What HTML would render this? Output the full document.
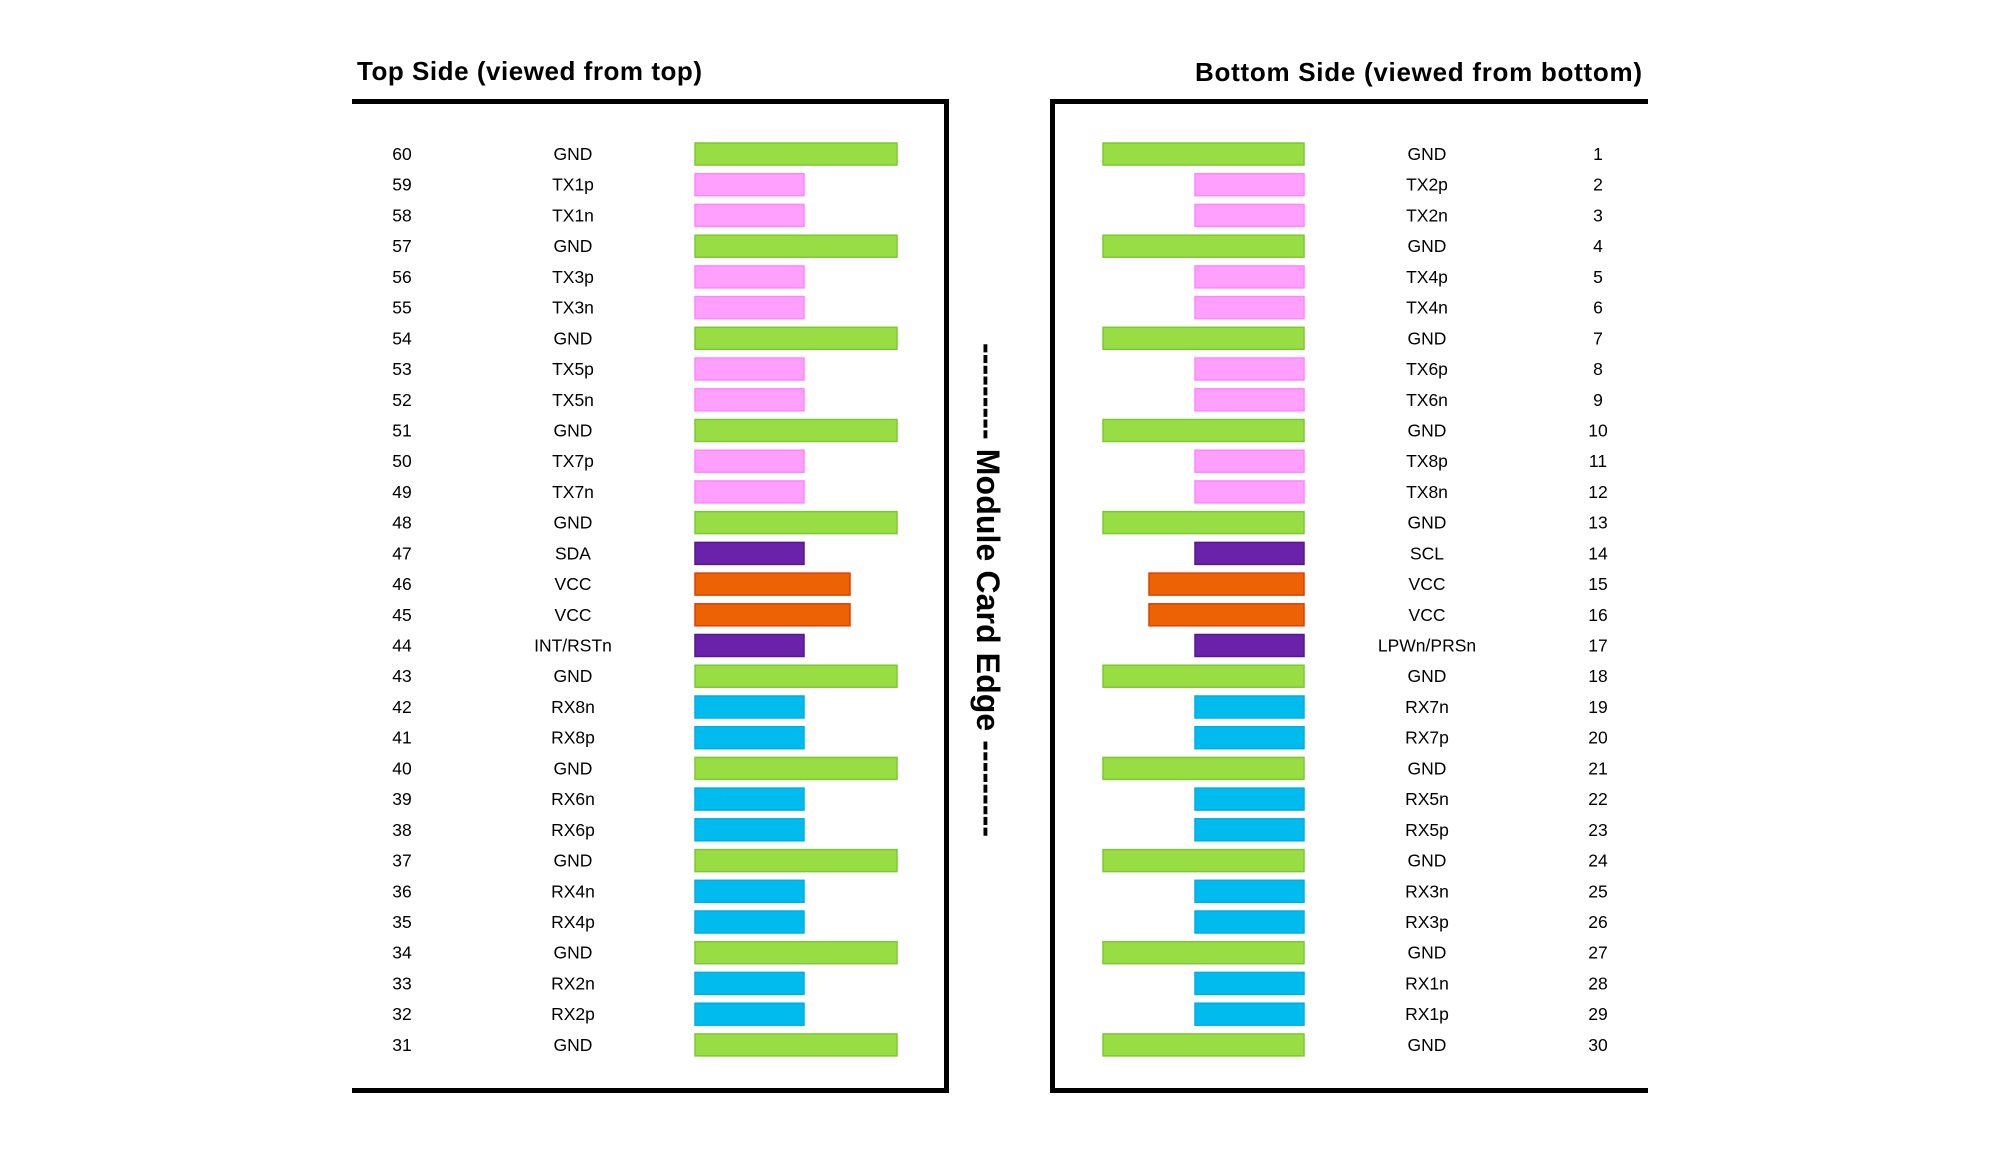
<!DOCTYPE html>
<html>
<head>
<meta charset="utf-8">
<style>
  html,body{margin:0;padding:0;background:#fff;}
  svg{display:block;}
  text{font-family:"Liberation Sans",Arial,sans-serif;fill:#000;}
  .t{font-size:17.5px;text-anchor:middle;}
  .h{font-size:26px;font-weight:bold;}
  .g{fill:#99dd44;stroke:#7cc832;stroke-width:1.5;}
  .p{fill:#ffa0ff;stroke:#ff86ff;stroke-width:1.5;}
  .u{fill:#6a22aa;stroke:#56168f;stroke-width:1.5;}
  .o{fill:#ec6205;stroke:#e04000;stroke-width:1.5;}
  .c{fill:#00bbee;stroke:#00aee6;stroke-width:1.5;}
</style>
</head>
<body>
<svg width="2000" height="1153" viewBox="0 0 2000 1153" xmlns="http://www.w3.org/2000/svg">
  <rect width="2000" height="1153" fill="#fff"/>

  <!-- titles -->
  <text class="h" x="357" y="80" textLength="345" lengthAdjust="spacing">Top Side (viewed from top)</text>
  <text class="h" x="1195" y="81" textLength="447" lengthAdjust="spacing">Bottom Side (viewed from bottom)</text>

  <!-- boxes -->
  <path d="M352,101.5 H946.5 V1090.5 H352" fill="none" stroke="#000" stroke-width="5"/>
  <path d="M1648,101.5 H1052.5 V1090.5 H1648" fill="none" stroke="#000" stroke-width="5"/>

  <!-- vertical label -->
  <text transform="translate(977,343) rotate(90)" x="0" y="0" font-size="32" font-weight="bold" textLength="494" lengthAdjust="spacing">--------- Module Card Edge ---------</text>

  <!-- LEFT SIDE (Top) -->
  <g transform="translate(0,154)"><text class="t" x="402" y="6">60</text><text class="t" x="573" y="6">GND</text><rect class="g" x="695" y="-11" width="202" height="22"/></g>
  <g transform="translate(0,184.7)"><text class="t" x="402" y="6">59</text><text class="t" x="573" y="6">TX1p</text><rect class="p" x="695" y="-11" width="109" height="22"/></g>
  <g transform="translate(0,215.4)"><text class="t" x="402" y="6">58</text><text class="t" x="573" y="6">TX1n</text><rect class="p" x="695" y="-11" width="109" height="22"/></g>
  <g transform="translate(0,246.2)"><text class="t" x="402" y="6">57</text><text class="t" x="573" y="6">GND</text><rect class="g" x="695" y="-11" width="202" height="22"/></g>
  <g transform="translate(0,276.9)"><text class="t" x="402" y="6">56</text><text class="t" x="573" y="6">TX3p</text><rect class="p" x="695" y="-11" width="109" height="22"/></g>
  <g transform="translate(0,307.6)"><text class="t" x="402" y="6">55</text><text class="t" x="573" y="6">TX3n</text><rect class="p" x="695" y="-11" width="109" height="22"/></g>
  <g transform="translate(0,338.3)"><text class="t" x="402" y="6">54</text><text class="t" x="573" y="6">GND</text><rect class="g" x="695" y="-11" width="202" height="22"/></g>
  <g transform="translate(0,369)"><text class="t" x="402" y="6">53</text><text class="t" x="573" y="6">TX5p</text><rect class="p" x="695" y="-11" width="109" height="22"/></g>
  <g transform="translate(0,399.8)"><text class="t" x="402" y="6">52</text><text class="t" x="573" y="6">TX5n</text><rect class="p" x="695" y="-11" width="109" height="22"/></g>
  <g transform="translate(0,430.5)"><text class="t" x="402" y="6">51</text><text class="t" x="573" y="6">GND</text><rect class="g" x="695" y="-11" width="202" height="22"/></g>
  <g transform="translate(0,461.2)"><text class="t" x="402" y="6">50</text><text class="t" x="573" y="6">TX7p</text><rect class="p" x="695" y="-11" width="109" height="22"/></g>
  <g transform="translate(0,491.9)"><text class="t" x="402" y="6">49</text><text class="t" x="573" y="6">TX7n</text><rect class="p" x="695" y="-11" width="109" height="22"/></g>
  <g transform="translate(0,522.6)"><text class="t" x="402" y="6">48</text><text class="t" x="573" y="6">GND</text><rect class="g" x="695" y="-11" width="202" height="22"/></g>
  <g transform="translate(0,553.4)"><text class="t" x="402" y="6">47</text><text class="t" x="573" y="6">SDA</text><rect class="u" x="695" y="-11" width="109" height="22"/></g>
  <g transform="translate(0,584.1)"><text class="t" x="402" y="6">46</text><text class="t" x="573" y="6">VCC</text><rect class="o" x="695" y="-11" width="155" height="22"/></g>
  <g transform="translate(0,614.8)"><text class="t" x="402" y="6">45</text><text class="t" x="573" y="6">VCC</text><rect class="o" x="695" y="-11" width="155" height="22"/></g>
  <g transform="translate(0,645.5)"><text class="t" x="402" y="6">44</text><text class="t" x="573" y="6">INT/RSTn</text><rect class="u" x="695" y="-11" width="109" height="22"/></g>
  <g transform="translate(0,676.2)"><text class="t" x="402" y="6">43</text><text class="t" x="573" y="6">GND</text><rect class="g" x="695" y="-11" width="202" height="22"/></g>
  <g transform="translate(0,707)"><text class="t" x="402" y="6">42</text><text class="t" x="573" y="6">RX8n</text><rect class="c" x="695" y="-11" width="109" height="22"/></g>
  <g transform="translate(0,737.7)"><text class="t" x="402" y="6">41</text><text class="t" x="573" y="6">RX8p</text><rect class="c" x="695" y="-11" width="109" height="22"/></g>
  <g transform="translate(0,768.4)"><text class="t" x="402" y="6">40</text><text class="t" x="573" y="6">GND</text><rect class="g" x="695" y="-11" width="202" height="22"/></g>
  <g transform="translate(0,799.1)"><text class="t" x="402" y="6">39</text><text class="t" x="573" y="6">RX6n</text><rect class="c" x="695" y="-11" width="109" height="22"/></g>
  <g transform="translate(0,829.8)"><text class="t" x="402" y="6">38</text><text class="t" x="573" y="6">RX6p</text><rect class="c" x="695" y="-11" width="109" height="22"/></g>
  <g transform="translate(0,860.6)"><text class="t" x="402" y="6">37</text><text class="t" x="573" y="6">GND</text><rect class="g" x="695" y="-11" width="202" height="22"/></g>
  <g transform="translate(0,891.3)"><text class="t" x="402" y="6">36</text><text class="t" x="573" y="6">RX4n</text><rect class="c" x="695" y="-11" width="109" height="22"/></g>
  <g transform="translate(0,922)"><text class="t" x="402" y="6">35</text><text class="t" x="573" y="6">RX4p</text><rect class="c" x="695" y="-11" width="109" height="22"/></g>
  <g transform="translate(0,952.7)"><text class="t" x="402" y="6">34</text><text class="t" x="573" y="6">GND</text><rect class="g" x="695" y="-11" width="202" height="22"/></g>
  <g transform="translate(0,983.4)"><text class="t" x="402" y="6">33</text><text class="t" x="573" y="6">RX2n</text><rect class="c" x="695" y="-11" width="109" height="22"/></g>
  <g transform="translate(0,1014.2)"><text class="t" x="402" y="6">32</text><text class="t" x="573" y="6">RX2p</text><rect class="c" x="695" y="-11" width="109" height="22"/></g>
  <g transform="translate(0,1044.9)"><text class="t" x="402" y="6">31</text><text class="t" x="573" y="6">GND</text><rect class="g" x="695" y="-11" width="202" height="22"/></g>

  <!-- RIGHT SIDE (Bottom) -->
  <g transform="translate(0,154)"><rect class="g" x="1103" y="-11" width="201" height="22"/><text class="t" x="1427" y="6">GND</text><text class="t" x="1598" y="6">1</text></g>
  <g transform="translate(0,184.7)"><rect class="p" x="1195" y="-11" width="109" height="22"/><text class="t" x="1427" y="6">TX2p</text><text class="t" x="1598" y="6">2</text></g>
  <g transform="translate(0,215.4)"><rect class="p" x="1195" y="-11" width="109" height="22"/><text class="t" x="1427" y="6">TX2n</text><text class="t" x="1598" y="6">3</text></g>
  <g transform="translate(0,246.2)"><rect class="g" x="1103" y="-11" width="201" height="22"/><text class="t" x="1427" y="6">GND</text><text class="t" x="1598" y="6">4</text></g>
  <g transform="translate(0,276.9)"><rect class="p" x="1195" y="-11" width="109" height="22"/><text class="t" x="1427" y="6">TX4p</text><text class="t" x="1598" y="6">5</text></g>
  <g transform="translate(0,307.6)"><rect class="p" x="1195" y="-11" width="109" height="22"/><text class="t" x="1427" y="6">TX4n</text><text class="t" x="1598" y="6">6</text></g>
  <g transform="translate(0,338.3)"><rect class="g" x="1103" y="-11" width="201" height="22"/><text class="t" x="1427" y="6">GND</text><text class="t" x="1598" y="6">7</text></g>
  <g transform="translate(0,369)"><rect class="p" x="1195" y="-11" width="109" height="22"/><text class="t" x="1427" y="6">TX6p</text><text class="t" x="1598" y="6">8</text></g>
  <g transform="translate(0,399.8)"><rect class="p" x="1195" y="-11" width="109" height="22"/><text class="t" x="1427" y="6">TX6n</text><text class="t" x="1598" y="6">9</text></g>
  <g transform="translate(0,430.5)"><rect class="g" x="1103" y="-11" width="201" height="22"/><text class="t" x="1427" y="6">GND</text><text class="t" x="1598" y="6">10</text></g>
  <g transform="translate(0,461.2)"><rect class="p" x="1195" y="-11" width="109" height="22"/><text class="t" x="1427" y="6">TX8p</text><text class="t" x="1598" y="6">11</text></g>
  <g transform="translate(0,491.9)"><rect class="p" x="1195" y="-11" width="109" height="22"/><text class="t" x="1427" y="6">TX8n</text><text class="t" x="1598" y="6">12</text></g>
  <g transform="translate(0,522.6)"><rect class="g" x="1103" y="-11" width="201" height="22"/><text class="t" x="1427" y="6">GND</text><text class="t" x="1598" y="6">13</text></g>
  <g transform="translate(0,553.4)"><rect class="u" x="1195" y="-11" width="109" height="22"/><text class="t" x="1427" y="6">SCL</text><text class="t" x="1598" y="6">14</text></g>
  <g transform="translate(0,584.1)"><rect class="o" x="1149" y="-11" width="155" height="22"/><text class="t" x="1427" y="6">VCC</text><text class="t" x="1598" y="6">15</text></g>
  <g transform="translate(0,614.8)"><rect class="o" x="1149" y="-11" width="155" height="22"/><text class="t" x="1427" y="6">VCC</text><text class="t" x="1598" y="6">16</text></g>
  <g transform="translate(0,645.5)"><rect class="u" x="1195" y="-11" width="109" height="22"/><text class="t" x="1427" y="6">LPWn/PRSn</text><text class="t" x="1598" y="6">17</text></g>
  <g transform="translate(0,676.2)"><rect class="g" x="1103" y="-11" width="201" height="22"/><text class="t" x="1427" y="6">GND</text><text class="t" x="1598" y="6">18</text></g>
  <g transform="translate(0,707)"><rect class="c" x="1195" y="-11" width="109" height="22"/><text class="t" x="1427" y="6">RX7n</text><text class="t" x="1598" y="6">19</text></g>
  <g transform="translate(0,737.7)"><rect class="c" x="1195" y="-11" width="109" height="22"/><text class="t" x="1427" y="6">RX7p</text><text class="t" x="1598" y="6">20</text></g>
  <g transform="translate(0,768.4)"><rect class="g" x="1103" y="-11" width="201" height="22"/><text class="t" x="1427" y="6">GND</text><text class="t" x="1598" y="6">21</text></g>
  <g transform="translate(0,799.1)"><rect class="c" x="1195" y="-11" width="109" height="22"/><text class="t" x="1427" y="6">RX5n</text><text class="t" x="1598" y="6">22</text></g>
  <g transform="translate(0,829.8)"><rect class="c" x="1195" y="-11" width="109" height="22"/><text class="t" x="1427" y="6">RX5p</text><text class="t" x="1598" y="6">23</text></g>
  <g transform="translate(0,860.6)"><rect class="g" x="1103" y="-11" width="201" height="22"/><text class="t" x="1427" y="6">GND</text><text class="t" x="1598" y="6">24</text></g>
  <g transform="translate(0,891.3)"><rect class="c" x="1195" y="-11" width="109" height="22"/><text class="t" x="1427" y="6">RX3n</text><text class="t" x="1598" y="6">25</text></g>
  <g transform="translate(0,922)"><rect class="c" x="1195" y="-11" width="109" height="22"/><text class="t" x="1427" y="6">RX3p</text><text class="t" x="1598" y="6">26</text></g>
  <g transform="translate(0,952.7)"><rect class="g" x="1103" y="-11" width="201" height="22"/><text class="t" x="1427" y="6">GND</text><text class="t" x="1598" y="6">27</text></g>
  <g transform="translate(0,983.4)"><rect class="c" x="1195" y="-11" width="109" height="22"/><text class="t" x="1427" y="6">RX1n</text><text class="t" x="1598" y="6">28</text></g>
  <g transform="translate(0,1014.2)"><rect class="c" x="1195" y="-11" width="109" height="22"/><text class="t" x="1427" y="6">RX1p</text><text class="t" x="1598" y="6">29</text></g>
  <g transform="translate(0,1044.9)"><rect class="g" x="1103" y="-11" width="201" height="22"/><text class="t" x="1427" y="6">GND</text><text class="t" x="1598" y="6">30</text></g>
</svg>
</body>
</html>
